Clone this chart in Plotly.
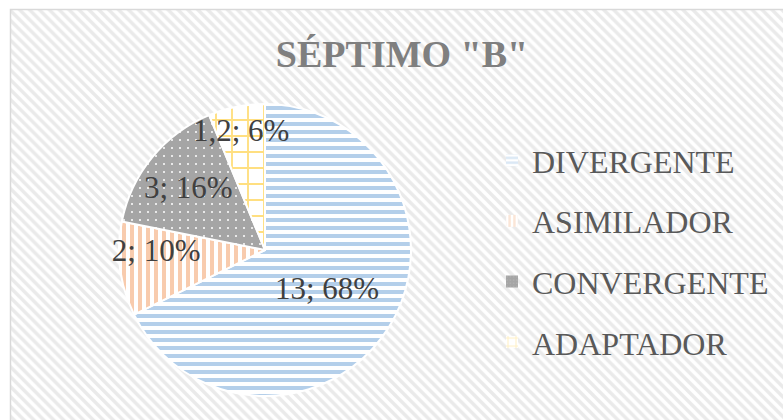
import plotly.graph_objects as go

# ---- data ----
categories = ["DIVERGENTE", "ASIMILADOR", "CONVERGENTE", "ADAPTADOR"]
values = [13, 2, 3, 1.2]
title_text = 'SÉPTIMO "B"'

# ---- styles ----
base_colors = ["#bdd7ee", "#f8cbad", "#a5a5a5", "#ffe699"]
pat_shapes = ["-", "|", ".", "+"]
pat_fg = ["#b4cfea", "#f8cbad", "#ffffff", "#ffdf80"]
pat_bg = ["#ffffff", "#ffffff", "#a5a5a5", "#ffffff"]
pat_size = [8, 8, 8, 16]
pat_solid = [0.5, 0.5, 0.05, 0.22]

W, H = 783, 420
FONT = "Liberation Serif"

fig = go.Figure()

# chart-area background with diagonal hatch + border (top/left visible)
x0 = 10.5 / W
y1 = 1 - 9.5 / H
fig.add_trace(go.Scatter(
    x=[x0, 1.05, 1.05, x0, x0], y=[-0.05, -0.05, y1, y1, -0.05],
    mode="lines", fill="toself",
    line=dict(color="#d9d9d9", width=1.5),
    fillcolor="#ffffff",
    fillpattern=dict(shape="\\", fgcolor="#d6d6d6", bgcolor="#ffffff", size=7, solidity=0.5),
    hoverinfo="skip", showlegend=False,
))

# pie
fig.add_trace(go.Pie(
    labels=categories, values=values, sort=False, direction="clockwise", rotation=0,
    marker=dict(colors=base_colors, line=dict(color="#ffffff", width=2),
                pattern=dict(shape=pat_shapes, fgcolor=pat_fg, bgcolor=pat_bg,
                             size=pat_size, solidity=pat_solid, fillmode="replace")),
    texttemplate="%{value}; %{percent:.0%}",
    textposition="inside", insidetextorientation="horizontal",
    textfont=dict(family=FONT, size=31, color="#404040"),
    domain=dict(x=[119 / W, 411 / W], y=[24 / H, 316 / H]),
    showlegend=False, hoverinfo="label+value+percent",
))

# legend entries
for i, c in enumerate(categories):
    fig.add_trace(go.Bar(
        x=[None], y=[None], name=c, legendgroup=c, xaxis="x2", yaxis="y2",
        marker=dict(color=base_colors[i], line=dict(width=0),
                    pattern=dict(shape=pat_shapes[i], fgcolor=pat_fg[i], bgcolor=pat_bg[i],
                                 size=[6, 6, 4, 10][i], solidity=pat_solid[i])),
        showlegend=True,
    ))

fig.update_layout(
    width=W, height=H,
    margin=dict(l=0, r=0, t=0, b=0),
    paper_bgcolor="#ffffff", plot_bgcolor="rgba(0,0,0,0)",
    separators=",.",
    uniformtext=dict(minsize=31, mode="show"),
    xaxis=dict(range=[0, 1], domain=[0, 1], visible=False, fixedrange=True),
    yaxis=dict(range=[0, 1], domain=[0, 1], visible=False, fixedrange=True),
    xaxis2=dict(range=[0, 1], domain=[0, 1], visible=False, overlaying="x"),
    yaxis2=dict(range=[0, 1], domain=[0, 1], visible=False, overlaying="y"),
    title=dict(text=title_text, x=402 / W, xanchor="center", y=1 - 54 / H, yanchor="middle",
               yref="paper", xref="paper",
               font=dict(family=FONT, size=38, color="#7f7f7f", weight="bold")),
    legend=dict(x=492 / W, xanchor="left", y=1 - 133 / H, yanchor="top",
                traceorder="grouped", tracegroupgap=16,
                bgcolor="rgba(255,255,255,0)",
                font=dict(family=FONT, size=32, color="#595959")),
    showlegend=True,
)

fig.write_html("out.html", config={"displayModeBar": False},
               post_script="document.body.style.margin='0';")
